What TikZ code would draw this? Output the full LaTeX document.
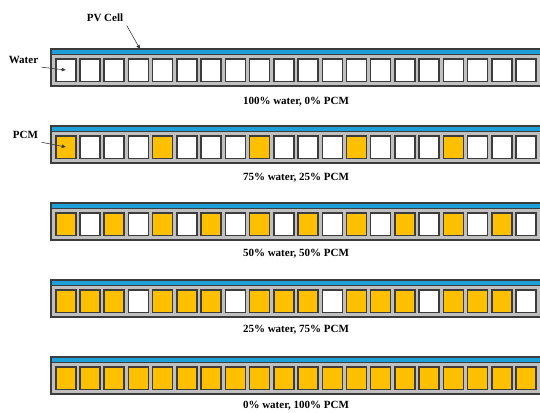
\documentclass[tikz,border=0pt]{standalone}
\usepackage{fontspec}
\setmainfont{Liberation Serif}
\usepackage{tikz}
\usetikzlibrary{arrows.meta, positioning}
\definecolor{pvblue}{RGB}{28,160,215}
\definecolor{pcmorange}{RGB}{255,192,0}
\definecolor{framegray}{RGB}{192,192,192}
\definecolor{edgegray}{RGB}{60,60,60}

\begin{document}
\begin{tikzpicture}[
		x=1pt, y=-1pt,
		body/.style={draw=edgegray, line width=1.2pt, fill=framegray},
		pvband/.style={draw=edgegray, line width=0.6pt, fill=pvblue},
		cell/.style={draw=edgegray, line width=1.5pt, minimum width=20pt, minimum height=22.5pt, inner sep=0pt},
		lbl/.style={font=\fontsize{11}{13}\selectfont\bfseries},
		ptr/.style={-{Triangle[length=4pt, width=3.5pt]}, line width=0.6pt, edgegray},
	]
		\clip (0,0) rectangle (540,412);

		% Rows: water cells (white) and PCM cells (orange) under the PV cell
		\foreach \r/\n/\txt in {0/0/{100\% water, 0\% PCM}, 1/1/{75\% water, 25\% PCM},
				2/2/{50\% water, 50\% PCM}, 3/3/{25\% water, 75\% PCM}, 4/4/{0\% water, 100\% PCM}} {
			\pgfmathsetmacro\rowtop{49+77*\r}
			\draw[body] (51,\rowtop) rectangle (548,\rowtop+37);
			\draw[pvband] (51,\rowtop) rectangle (548,\rowtop+5);
			\foreach \i in {0,...,19} {
				\pgfmathtruncatemacro\pcm{ceil((\i+1)*\n/4)-ceil(\i*\n/4)}
				\ifnum\pcm=1 \def\fillc{pcmorange}\else\def\fillc{white}\fi
				\node[cell, fill=\fillc] (c-\r-\i) at (65.75+24.23*\i, \rowtop+21) {};
			}
			\node[lbl] (cap-\r) at (296, 101.5+76*\r) {\txt};
		}

		% Pointers
		\node[lbl] (pvlbl) at (105,18) {PV Cell};
		\coordinate (pvtop) at (140,49);
		\draw[ptr] (pvlbl.south east) -- (pvtop);

		\node[lbl] (water) at (23.5,60) {Water};
		\draw[ptr] (water.south east) -- (c-0-0.center);

		\node[lbl] (pcm) at (25.5,135) {PCM};
		\draw[ptr] (pcm.south east) -- (c-1-0.center);
	\end{tikzpicture}
\end{document}
